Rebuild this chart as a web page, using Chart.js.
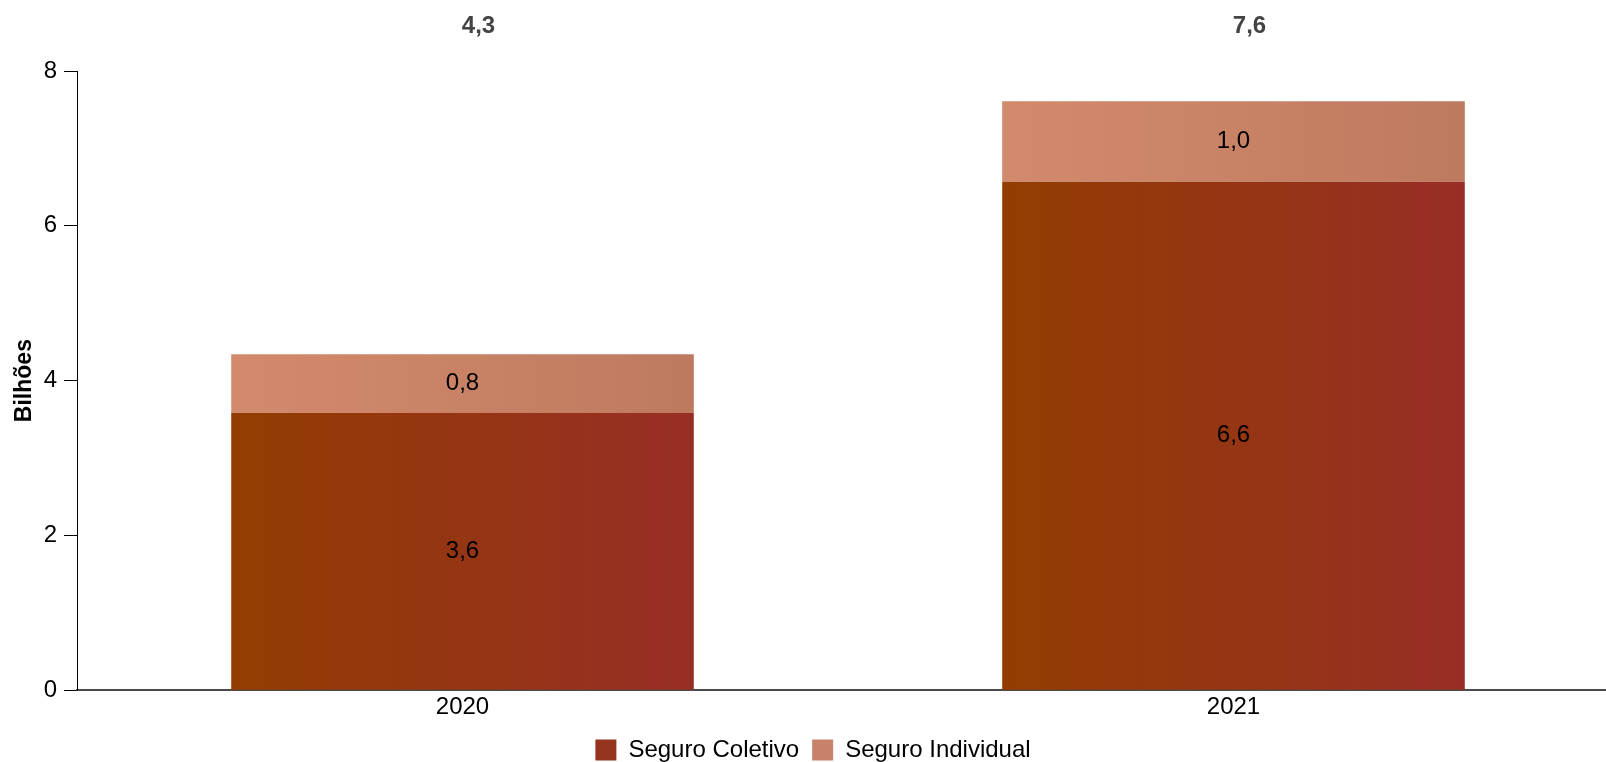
<!DOCTYPE html>
<html>
<head>
<meta charset="utf-8">
<script src="https://cdn.jsdelivr.net/npm/chart.js@4.4.1/dist/chart.umd.min.js"></script>
<style>
  html, body { margin: 0; padding: 0; background: #fff; overflow: hidden; }
  #wrap { width: 1606px; height: 762px; overflow: hidden; }
</style>
</head>
<body>
<div id="wrap"><canvas id="chart" width="1619" height="762"></canvas></div>
<script>
const categories = ["2020", "2021"];
const seguroColetivo = [3.58, 6.57];
const seguroIndividual = [0.76, 1.04];
const yTicks = [0, 2, 4, 6, 8];

const FONT = '"Liberation Sans", Arial, sans-serif';
const BAR_FRACTION = 0.6;

function fmt(v) {
  return v.toFixed(1).replace(".", ",");
}

// horizontal gradient across each bar, left -> right
function barGradient(from, to, solid) {
  return function (ctx) {
    const chart = ctx.chart;
    const x = chart.scales.x;
    if (ctx.type !== "data" || !x || !chart.chartArea) return solid;
    const c = x.getPixelForValue(ctx.dataIndex);
    const half = (x.width / categories.length) * BAR_FRACTION / 2;
    const g = chart.ctx.createLinearGradient(c - half, 0, c + half, 0);
    g.addColorStop(0, from);
    g.addColorStop(1, to);
    return g;
  };
}

const valueLabels = {
  id: "valueLabels",
  afterDatasetsDraw(chart) {
    const ctx = chart.ctx;
    ctx.save();
    ctx.textAlign = "center";
    ctx.textBaseline = "middle";
    ctx.font = "24px " + FONT;
    ctx.fillStyle = "#000";
    chart.data.datasets.forEach((ds, di) => {
      const meta = chart.getDatasetMeta(di);
      meta.data.forEach((bar, i) => {
        const p = bar.getProps(["x", "y", "base"], true);
        ctx.fillText(fmt(ds.data[i]), p.x, (p.y + p.base) / 2);
      });
    });
    // totals above the chart
    ctx.font = "bold 24px " + FONT;
    ctx.fillStyle = "#444";
    const meta0 = chart.getDatasetMeta(0);
    meta0.data.forEach((bar, i) => {
      const total = seguroColetivo[i] + seguroIndividual[i];
      ctx.fillText(fmt(total), bar.x + 16, 26);
    });
    ctx.restore();
  }
};

new Chart(document.getElementById("chart").getContext("2d"), {
  type: "bar",
  data: {
    labels: categories,
    datasets: [
      {
        label: "Seguro Coletivo",
        data: seguroColetivo,
        backgroundColor: barGradient("#933d02", "#972e25", "#953520"),
        borderWidth: 0
      },
      {
        label: "Seguro Individual",
        data: seguroIndividual,
        backgroundColor: barGradient("#d28a6d", "#be7a5f", "#c8826a"),
        borderWidth: 0
      }
    ]
  },
  options: {
    responsive: false,
    animation: false,
    categoryPercentage: 1,
    barPercentage: BAR_FRACTION,
    layout: {
      padding: { top: 71, left: 7, right: 0, bottom: -10 }
    },
    plugins: {
      legend: {
        position: "bottom",
        labels: {
          generateLabels(chart) {
            const solids = ["#953520", "#c8826a"];
            return chart.data.datasets.map((ds, i) => ({
              text: ds.label,
              fillStyle: solids[i],
              strokeStyle: solids[i],
              lineWidth: 0,
              fontColor: "#000",
              datasetIndex: i
            }));
          },
          boxWidth: 21,
          boxHeight: 21,
          padding: 13,
          color: "#000",
          font: { family: FONT, size: 24 }
        }
      },
      tooltip: { enabled: false }
    },
    scales: {
      x: {
        stacked: true,
        grid: { display: false, drawTicks: false },
        border: { display: true, color: "#4a4a4a", width: 2 },
        ticks: { color: "#000", font: { family: FONT, size: 24 }, padding: 3 }
      },
      y: {
        stacked: true,
        min: 0,
        max: 8,
        afterFit(scale) { scale.width = 70; },
        afterBuildTicks(scale) { scale.ticks = yTicks.map(v => ({ value: v })); },
        grid: { drawOnChartArea: false, drawTicks: true, tickLength: 13, color: "#000" },
        border: { display: true, color: "#000", width: 1 },
        ticks: { color: "#000", font: { family: FONT, size: 24 }, padding: 7 },
        title: {
          display: true,
          text: "Bilhões",
          color: "#000",
          font: { family: FONT, size: 23, weight: "bold" },
          padding: { top: 4, bottom: 4 }
        }
      }
    }
  },
  plugins: [valueLabels]
});
</script>
</body>
</html>
